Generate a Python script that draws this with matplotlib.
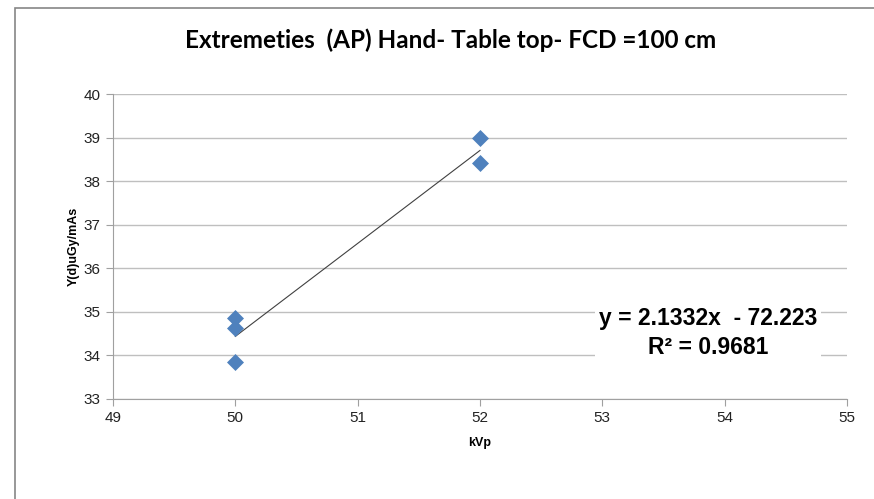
import numpy as np
import matplotlib.pyplot as plt
from matplotlib.patches import Rectangle

# Data
kvp = [50, 50, 50, 52, 52]
dose = [34.85, 34.62, 33.84, 39.0, 38.41]

x_ticks = [49, 50, 51, 52, 53, 54, 55]
y_ticks = [33, 34, 35, 36, 37, 38, 39, 40]

title = 'Extremeties  (AP) Hand- Table top- FCD =100 cm'
equation = 'y = 2.1332x  - 72.223\nR\u00b2 = 0.9681'

plt.rcParams['font.family'] = ['Liberation Sans', 'DejaVu Sans']

fig = plt.figure(figsize=(8.74, 4.99), dpi=100)
ax = fig.add_axes([113 / 874, 1 - 399 / 499, (847 - 113) / 874, (399 - 94) / 499])

# Figure frame (chart area border)
fig.patches.append(Rectangle((15 / 874, -0.01), 1.0, 1 - 8 / 499 + 0.01,
                             transform=fig.transFigure, fill=False,
                             edgecolor='#868686', linewidth=1.2))

ax.scatter(kvp, dose, marker='D', s=75, color='#4F81BD', zorder=3, linewidths=0)

# Linear trendline
slope, intercept = np.polyfit(kvp, dose, 1)
xs = np.array([min(kvp), max(kvp)])
ax.plot(xs, slope * xs + intercept, color='#404040', linewidth=0.8, zorder=2)

ax.set_xlim(x_ticks[0], x_ticks[-1])
ax.set_ylim(y_ticks[0], y_ticks[-1])
ax.set_xticks(x_ticks)
ax.set_yticks(y_ticks)
ax.grid(axis='y', color='#BFBFBF', linewidth=1)
ax.set_axisbelow(True)
for side in ['top', 'right']:
    ax.spines[side].set_visible(False)
for side in ['left', 'bottom']:
    ax.spines[side].set_color('#A0A0A0')
ax.tick_params(direction='out', length=5, color='#A0A0A0', labelsize=11,
               labelcolor='#222222', pad=4)

ax.set_xlabel('kVp', fontsize=9, fontweight='bold', labelpad=8)
ax.set_ylabel('Y(d)uGy/mAs', fontsize=9, fontweight='bold', labelpad=3)

fig.text(451 / 874, 1 - 40 / 499, title, ha='center', va='center',
         fontsize=17.5, fontweight='bold', family='Lato')

ax.text(708 / 874, 1 - 333 / 499, equation, transform=fig.transFigure,
        ha='center', va='center', fontsize=16.5, fontweight='bold',
        linespacing=1.35,
        bbox=dict(facecolor='white', edgecolor='none', pad=3))

fig.savefig('out.png', dpi=100)
